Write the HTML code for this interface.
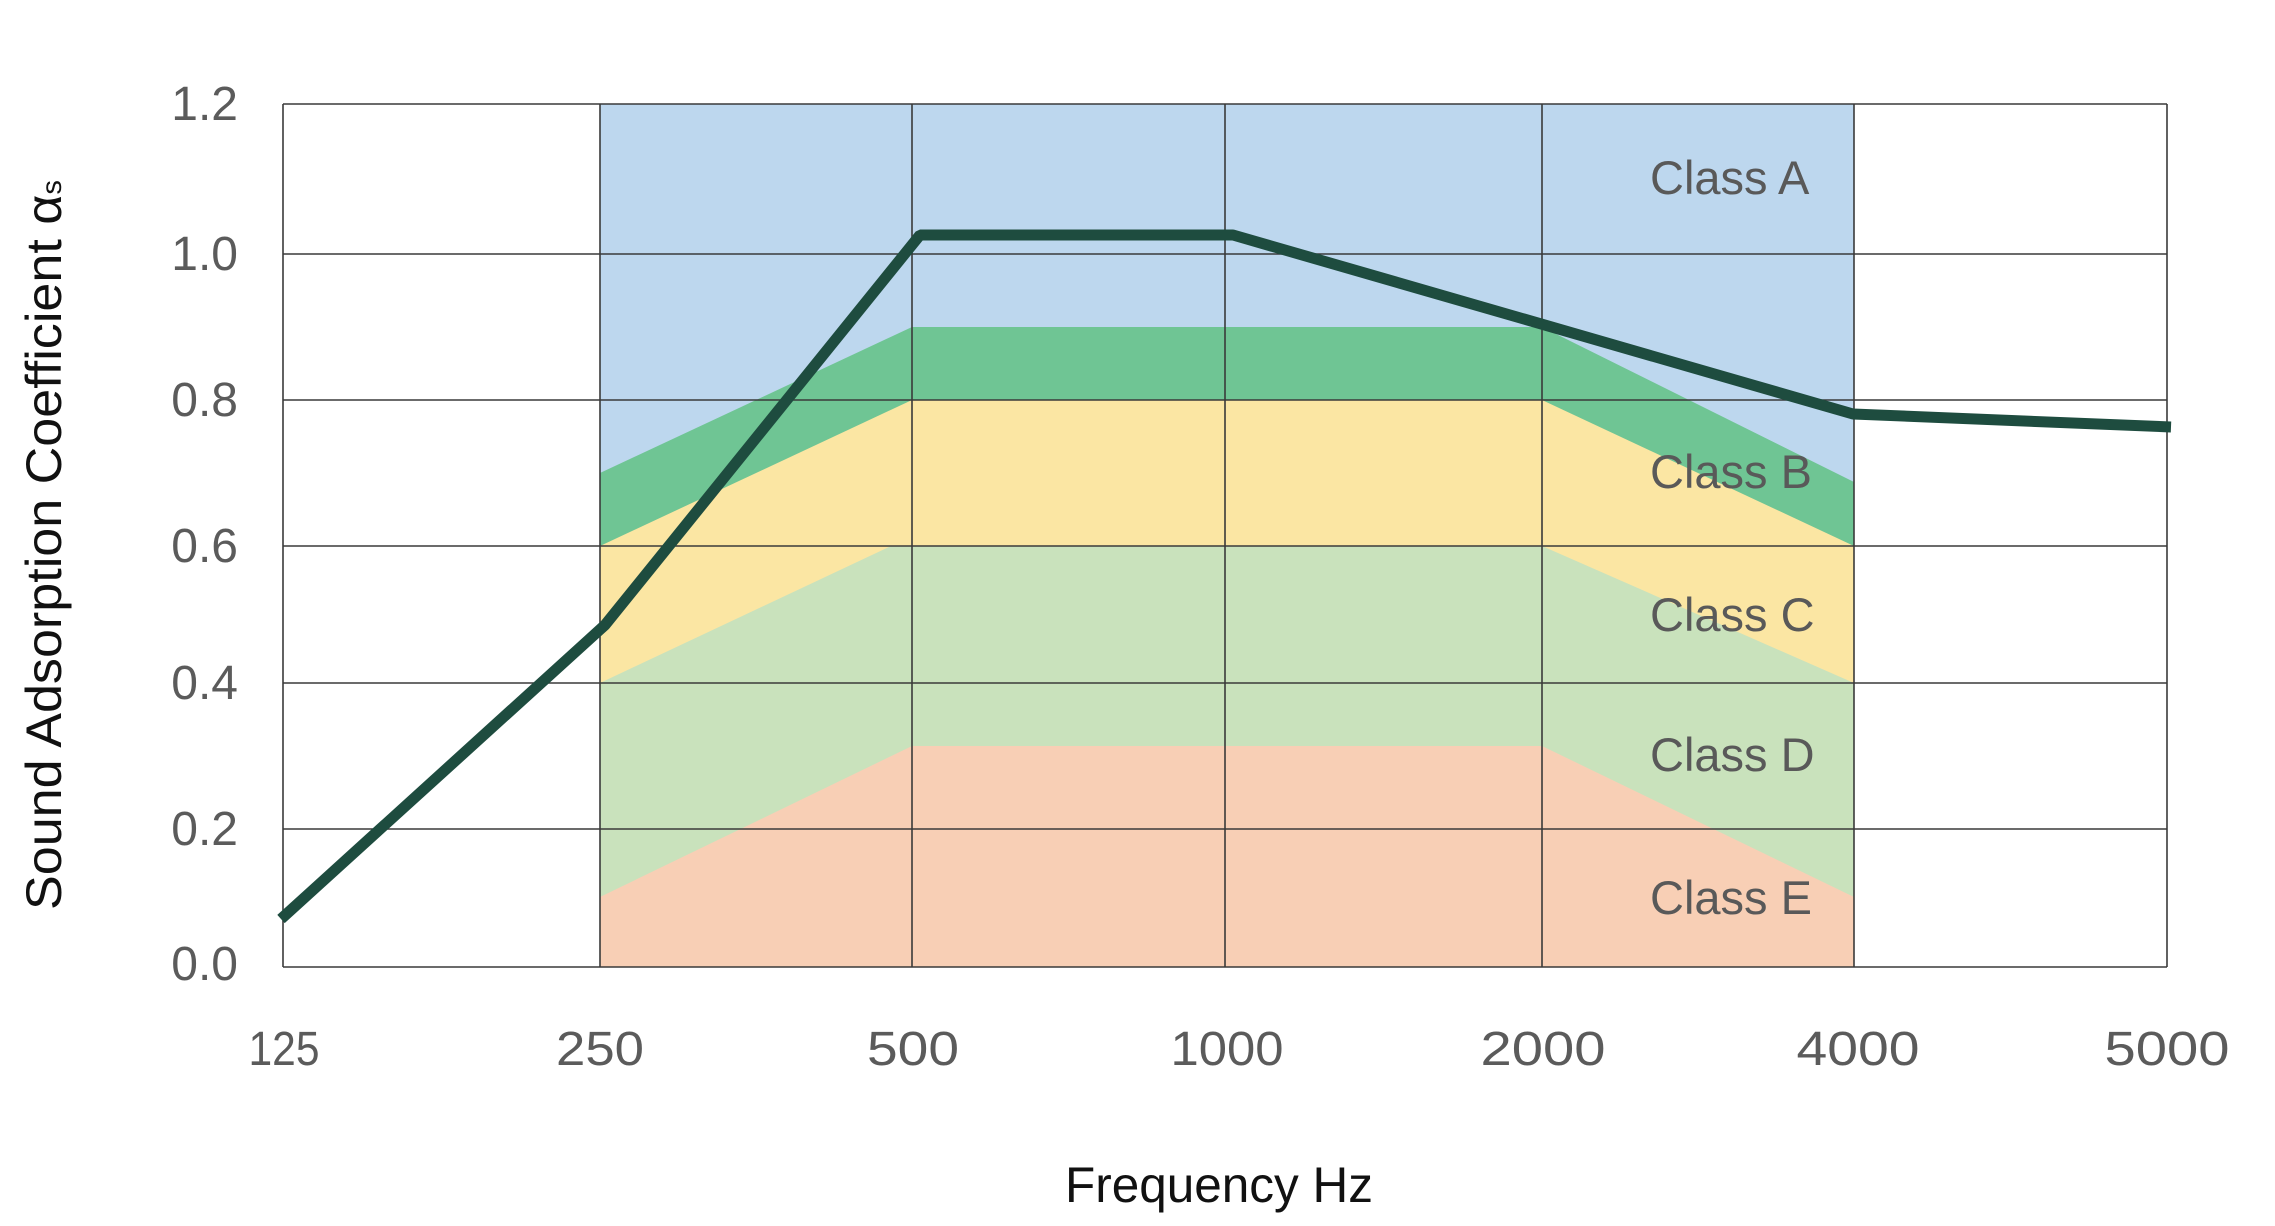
<!DOCTYPE html>
<html>
<head>
<meta charset="utf-8">
<style>
  html, body { margin: 0; padding: 0; background: #ffffff; }
  svg { display: block; }
  text { font-family: "Liberation Sans", "DejaVu Sans", sans-serif; }
</style>
</head>
<body>
<svg width="2275" height="1226" viewBox="0 0 2275 1226" xmlns="http://www.w3.org/2000/svg">
  <rect x="0" y="0" width="2275" height="1226" fill="#ffffff"/>

  <!-- plot background -->
  <rect x="283" y="104" width="1884" height="863" fill="#ffffff"/>

  <!-- Class A (blue) -->
  <rect x="600" y="104" width="1254" height="863" fill="#bdd7ee"/>
  <!-- Class B (green) -->
  <polygon points="600,473 912,327 1542,327 1854,482 1854,967 600,967" fill="#6fc594"/>
  <!-- Class C (yellow) -->
  <polygon points="600,546 912,400 1542,400 1854,546 1854,967 600,967" fill="#fbe6a3"/>
  <!-- Class D (light green) -->
  <polygon points="600,683 891,546 1542,546 1854,683 1854,967 600,967" fill="#c9e2bc"/>
  <!-- Class E (salmon) -->
  <polygon points="600,897 912,746 1542,746 1854,897 1854,967 600,967" fill="#f8cfb5"/>

  <!-- grid lines -->
  <g stroke="#3a3a3a" stroke-width="1.6" fill="none">
    <line x1="283" y1="104" x2="2167" y2="104"/>
    <line x1="283" y1="254" x2="2167" y2="254"/>
    <line x1="283" y1="400" x2="2167" y2="400"/>
    <line x1="283" y1="546" x2="2167" y2="546"/>
    <line x1="283" y1="683" x2="2167" y2="683"/>
    <line x1="283" y1="829" x2="2167" y2="829"/>
    <line x1="283" y1="967" x2="2167" y2="967"/>
    <line x1="283" y1="104" x2="283" y2="967"/>
    <line x1="600" y1="104" x2="600" y2="967"/>
    <line x1="912" y1="104" x2="912" y2="967"/>
    <line x1="1225" y1="104" x2="1225" y2="967"/>
    <line x1="1542" y1="104" x2="1542" y2="967"/>
    <line x1="1854" y1="104" x2="1854" y2="967"/>
    <line x1="2167" y1="104" x2="2167" y2="967"/>
  </g>

  <!-- data curve -->
  <polyline points="281,919 605,625 920,235 1233,235 1853,414 2171,427"
            fill="none" stroke="#1e4c3f" stroke-width="11" stroke-linejoin="bevel" stroke-linecap="butt"/>

  <!-- y tick labels -->
  <g fill="#5b5b5b" font-size="48" text-anchor="end">
    <text x="238" y="120">1.2</text>
    <text x="238" y="270">1.0</text>
    <text x="238" y="416">0.8</text>
    <text x="238" y="562">0.6</text>
    <text x="238" y="699">0.4</text>
    <text x="238" y="845">0.2</text>
    <text x="238" y="980">0.0</text>
  </g>

  <!-- x tick labels -->
  <g fill="#5b5b5b" font-size="48" text-anchor="middle">
    <text x="284" y="1065" textLength="71" lengthAdjust="spacingAndGlyphs">125</text>
    <text x="600" y="1065" textLength="88" lengthAdjust="spacingAndGlyphs">250</text>
    <text x="913" y="1065" textLength="92" lengthAdjust="spacingAndGlyphs">500</text>
    <text x="1227" y="1065" textLength="113" lengthAdjust="spacingAndGlyphs">1000</text>
    <text x="1543" y="1065" textLength="125" lengthAdjust="spacingAndGlyphs">2000</text>
    <text x="1858" y="1065" textLength="123" lengthAdjust="spacingAndGlyphs">4000</text>
    <text x="2167" y="1065" textLength="125" lengthAdjust="spacingAndGlyphs">5000</text>
  </g>

  <!-- class labels -->
  <g fill="#595959" font-size="47">
    <text x="1650" y="194">Class A</text>
    <text x="1650" y="488">Class B</text>
    <text x="1650" y="631">Class C</text>
    <text x="1650" y="771">Class D</text>
    <text x="1650" y="914">Class E</text>
  </g>

  <!-- axis titles -->
  <text x="1219" y="1202" font-size="50" fill="#111111" text-anchor="middle" textLength="308" lengthAdjust="spacingAndGlyphs">Frequency Hz</text>
  <text transform="translate(61,910) rotate(-90)" font-size="50" fill="#111111" textLength="730" lengthAdjust="spacingAndGlyphs">Sound Adsorption Coefficient α<tspan font-size="28">s</tspan></text>
</svg>
</body>
</html>
